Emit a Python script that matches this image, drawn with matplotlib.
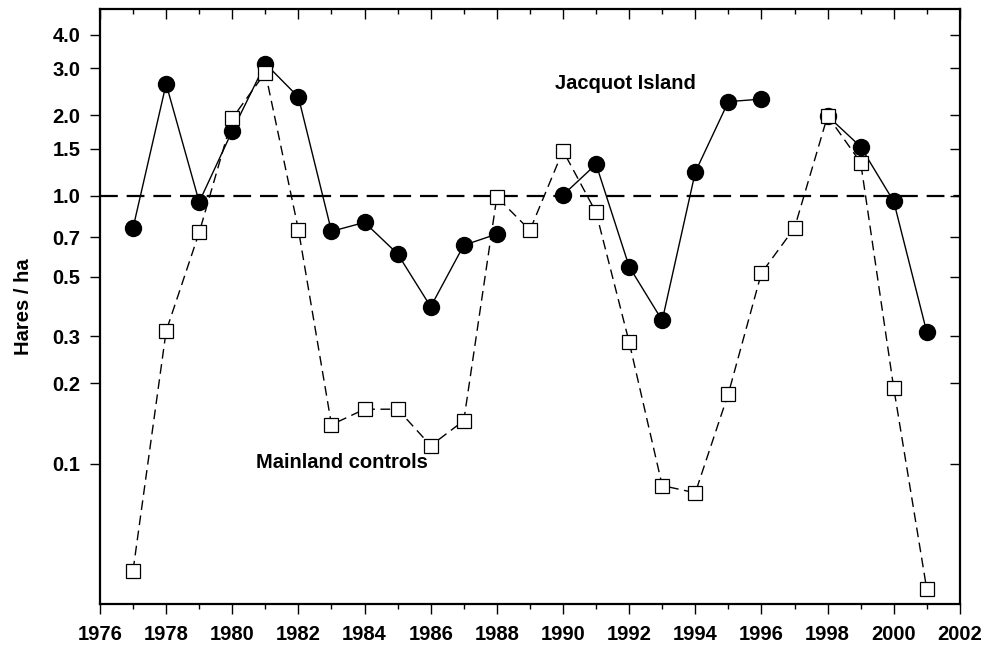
import numpy as np
import matplotlib.pyplot as plt
from matplotlib.ticker import FixedLocator, NullFormatter, NullLocator

plt.rcParams['font.family'] = ['Liberation Sans', 'DejaVu Sans']
plt.rcParams['font.weight'] = 'bold'

years = list(range(1977, 2002))

# Jacquot Island (nan = no survey)
jacquot = [0.76, 2.62, 0.95, 1.75, 3.12, 2.34, 0.738, 0.797, 0.608, 0.386,
           0.655, 0.721, np.nan, 1.008, 1.314, 0.545, 0.343, 1.228, 2.25, 2.30,
           np.nan, 1.99, 1.527, 0.954, 0.310]

# Mainland controls
mainland = [0.040, 0.313, 0.731, 1.95, 2.89, 0.749, 0.140, 0.160, 0.160, 0.117,
            0.145, 0.991, 0.745, 1.476, 0.868, 0.285, 0.083, 0.078, 0.183, 0.516,
            0.76, 1.99, 1.333, 0.192, 0.034]

y_ticks = [0.1, 0.2, 0.3, 0.5, 0.7, 1.0, 1.5, 2.0, 3.0, 4.0]
x_ticks = list(range(1976, 2003, 2))

fig = plt.figure(figsize=(9.85, 6.47), dpi=100)
ax = fig.add_axes([0.1015, 0.0665, 0.873, 0.92])

ax.set_yscale('log')
ax.set_xlim(1976, 2002)
ax.set_ylim(0.03, 5.0)

# reference line at 1.0
ax.axhline(1.0, color='black', linewidth=1.6, dashes=(8, 4), zorder=1)

ax.plot(years, jacquot, color='black', linewidth=1.0, marker='o',
        markersize=11.5, markerfacecolor='black', markeredgecolor='black', zorder=2)
ax.plot(years, mainland, color='black', linewidth=1.0, dashes=(7, 4), marker='s',
        markersize=10, markerfacecolor='white', markeredgecolor='black',
        markeredgewidth=0.9, zorder=3)

ax.text(1989.75, 2.62, 'Jacquot Island', fontsize=14.5, fontweight='bold',
        ha='left', va='center')
ax.text(1980.72, 0.101, 'Mainland controls', fontsize=14.5, fontweight='bold',
        ha='left', va='center')

# axes ticks
ax.yaxis.set_major_locator(FixedLocator(y_ticks))
ax.yaxis.set_minor_locator(NullLocator())
ax.yaxis.set_minor_formatter(NullFormatter())
ax.set_yticklabels(['%.1f' % v for v in y_ticks])
ax.set_xticks(x_ticks)
ax.set_xticks(range(1976, 2003), minor=True)

ax.tick_params(axis='both', which='major', labelsize=14.5, width=1.0, length=7)
ax.tick_params(axis='y', which='major', pad=7, right=True, direction='out')
ax.tick_params(axis='x', which='major', pad=8)
ax.tick_params(axis='x', which='minor', length=3.5, width=1.0)
ax.tick_params(axis='x', which='both', top=True)

# right/top ticks point inward, left/bottom outward
for t in ax.yaxis.get_major_ticks():
    t.tick2line.set_marker(0)
for t in ax.xaxis.get_major_ticks() + ax.xaxis.get_minor_ticks():
    t.tick2line.set_marker(3)

for lab in ax.get_xticklabels() + ax.get_yticklabels():
    lab.set_fontweight('bold')

for s in ax.spines.values():
    s.set_linewidth(1.6)

ax.set_ylabel('Hares / ha', fontsize=14.5, fontweight='bold', labelpad=14)

fig.savefig('out.png', dpi=100)
